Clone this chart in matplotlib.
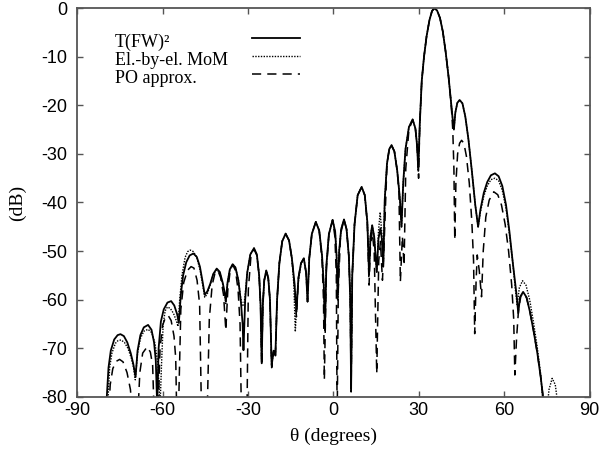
import matplotlib
matplotlib.use("Agg")
import matplotlib.pyplot as plt
import numpy as np
from matplotlib.lines import Line2D

# values: (theta in degrees, level in dB)
solid_pts = [
    (-79.8, -82), (-79.0, -74), (-78.2, -70.5), (-77.0, -68.2), (-75.8, -67.3), (-74.8, -67.1), (-73.6, -67.5),
    (-72.4, -68.8), (-71.2, -71), (-70.3, -73.2), (-69.5, -75.9),
    (-68.8, -70.5), (-67.8, -67.3), (-66.6, -65.7), (-65.1, -65.2), (-63.9, -66.2), (-63.0, -68.8), (-62.4, -72.5),
    (-61.9, -82),
    (-61.4, -70), (-60.6, -64.5), (-59.6, -62), (-58.3, -60.6), (-57.0, -60.3), (-55.9, -61.2), (-54.9, -63),
    (-54.3, -64.8),
    (-53.6, -59), (-52.8, -55), (-51.7, -52.3), (-50.5, -50.9), (-49.2, -50.5), (-48.0, -51.2), (-46.9, -53.2),
    (-45.9, -56.5), (-45.2, -59),
    (-44.3, -58.3), (-43.3, -56.8), (-42.2, -54.7), (-41.0, -53.6), (-39.9, -54.3), (-38.9, -56.5), (-38.2, -58.5),
    (-37.8, -60.4),
    (-37.2, -56.5), (-36.4, -53.8), (-35.4, -52.7), (-34.4, -53.4), (-33.4, -56), (-32.5, -60.5), (-31.9, -65),
    (-31.6, -70.4),
    (-31.0, -60), (-30.3, -54.5), (-29.2, -50.7), (-27.9, -49.4), (-26.9, -50.7), (-26.1, -55), (-25.6, -61),
    (-25.2, -73.1),
    (-24.8, -61), (-24.3, -56), (-23.6, -54), (-22.9, -55.5), (-22.3, -60), (-21.7, -73.5),
    (-21.0, -70.5), (-20.4, -71.5),
    (-19.8, -60), (-19.0, -52.5), (-18.0, -48), (-16.8, -46.4), (-15.6, -47.8), (-14.6, -51.5), (-13.7, -56.5),
    (-13.0, -62.5),
    (-12.3, -55.5), (-11.4, -52.5), (-10.4, -51.5), (-9.6, -54.5), (-9.1, -60.4),
    (-8.5, -51.5), (-7.6, -46.5), (-6.2, -44), (-5.0, -45.8), (-4.0, -51), (-3.4, -57), (-3.0, -66.3),
    (-2.5, -53), (-1.6, -46.5), (-0.3, -43.6), (0.6, -46), (1.1, -51), (1.5, -60),
    (2.0, -50), (2.7, -45.5), (3.7, -43.5), (4.6, -45.5), (5.4, -51), (5.9, -60), (6.2, -78.3),
    (6.6, -55), (7.4, -44.5), (8.5, -38.5), (9.9, -36.8), (11.0, -38.5), (11.9, -44), (12.5, -54.9),
    (13.0, -47), (13.6, -44.7), (14.3, -47), (15.2, -54.3), (15.8, -47.5), (16.5, -45.3), (17.0, -47.5),
    (17.5, -53.2),
    (18.0, -39.5), (18.8, -32), (19.6, -29), (20.4, -28.2), (21.4, -29.5), (22.4, -33.5), (23.3, -39), (23.9, -45),
    (24.5, -36), (25.3, -29), (26.5, -24.5), (27.8, -22.9), (28.8, -24.8), (29.4, -28.5), (29.8, -33.5),
    (30.3, -24), (31.0, -15), (31.8, -10), (32.7, -5.8), (33.7, -2.5), (34.6, -0.6), (35.4, 0), (36.4, -0.5),
    (37.4, -2), (38.4, -4.8), (39.4, -9), (40.4, -14), (41.3, -19.5), (41.9, -23), (42.3, -25),
    (42.8, -21.5), (43.5, -19.5), (44.3, -18.9), (45.3, -19.6), (46.3, -22.3), (47.4, -27), (48.6, -33.5),
    (49.8, -40.5), (50.8, -45),
    (51.6, -41.5), (52.8, -38), (54.0, -35.8), (55.3, -34.4), (56.7, -34), (58.0, -34.6), (59.3, -36.6),
    (60.6, -40.5), (61.8, -46), (63.0, -52.5), (64.3, -59), (64.9, -62.8),
    (65.5, -59.5), (66.6, -58.4), (67.8, -59.5), (69.0, -62.5), (70.3, -66.5), (71.6, -71), (72.8, -76),
    (73.6, -80), (74.0, -82),
]

dotted_pts = [
    (-79.3, -82), (-78.6, -74), (-77.8, -71), (-76.6, -69), (-75.6, -68.4), (-74.6, -68.3), (-73.4, -68.8),
    (-72.2, -70), (-71.0, -72), (-70.2, -74), (-69.6, -76.5),
    (-68.8, -71), (-67.8, -68), (-66.6, -66.5), (-65.1, -66.1), (-63.8, -66.8), (-62.7, -69), (-61.7, -73),
    (-60.9, -82),
    (-60.3, -72), (-59.8, -65), (-59.1, -62.3), (-58.3, -61.5), (-57.3, -61.8), (-56.2, -62.8), (-55.2, -64.3),
    (-54.6, -65.5),
    (-54.0, -60), (-53.2, -55), (-52.1, -51.3), (-51.2, -50.1), (-50.3, -49.8), (-49.2, -50.1), (-48.0, -51.3),
    (-46.8, -54), (-45.8, -57.5), (-45.2, -59.5),
    (-44.3, -58.8), (-43.3, -57), (-42.2, -54.8), (-41.0, -53.8), (-39.9, -54.5), (-38.9, -56.8), (-38.2, -58.8),
    (-37.8, -60.8),
    (-37.2, -56.5), (-36.4, -53.8), (-35.4, -52.7), (-34.4, -53.4), (-33.4, -56), (-32.6, -59.5), (-32.0, -61.2),
    (-31.5, -61.3),
    (-31.0, -59), (-30.3, -54.5), (-29.2, -50.7), (-27.9, -49.4), (-26.9, -50.7), (-26.1, -55), (-25.6, -61),
    (-25.2, -73.1),
    (-24.8, -61), (-24.3, -56), (-23.6, -54), (-22.9, -55.5), (-22.3, -60), (-21.7, -73.5),
    (-21.0, -70.5), (-20.4, -71.5),
    (-19.8, -60), (-19.0, -52.5), (-18.0, -48), (-16.8, -46.4), (-15.6, -47.8), (-14.6, -51.5), (-13.9, -57),
    (-13.4, -66.6),
    (-12.5, -57), (-11.4, -52.7), (-10.4, -51.5), (-9.6, -54.5), (-9.1, -60.4),
    (-8.5, -51.5), (-7.6, -46.5), (-6.2, -44), (-5.0, -45.8), (-4.0, -51), (-3.4, -57), (-3.0, -66.3),
    (-2.5, -53), (-1.6, -46.5), (-0.3, -43.6), (0.6, -46), (1.1, -51), (1.5, -60),
    (2.0, -50), (2.7, -45.5), (3.7, -43.5), (4.6, -45.5), (5.4, -51), (5.9, -60), (6.2, -78.3),
    (6.6, -55), (7.4, -44.5), (8.5, -38.5), (9.9, -36.8), (11.0, -38.5), (11.9, -44), (12.5, -54.9),
    (13.0, -47), (13.6, -44.7), (14.3, -47), (15.2, -54.3), (15.8, -46), (16.4, -42), (17.0, -46.5),
    (17.5, -53.2),
    (18.0, -39.5), (18.8, -32), (19.6, -29), (20.4, -28.2), (21.4, -29.5), (22.4, -33.5), (23.3, -39), (23.9, -45),
    (24.5, -36), (25.3, -29), (26.5, -24.5), (27.8, -22.9), (28.8, -24.8), (29.4, -28.5), (29.8, -33.5),
    (30.3, -24), (31.0, -15), (31.8, -10), (32.7, -5.8), (33.7, -2.5), (34.6, -0.6), (35.4, 0), (36.4, -0.5),
    (37.4, -2), (38.4, -4.8), (39.4, -9), (40.4, -14), (41.3, -19.5), (41.9, -23), (42.3, -25),
    (42.8, -21.5), (43.5, -19.5), (44.3, -18.9), (45.3, -19.6), (46.3, -22.3), (47.4, -27), (48.6, -33.5),
    (49.8, -40.5), (50.8, -45),
    (51.6, -42), (52.8, -38.7), (54.0, -36.6), (55.3, -35.3), (56.7, -35), (58.0, -35.5), (59.3, -37.5),
    (60.6, -41.2), (61.8, -46.5), (63.0, -52.5), (63.9, -58), (64.5, -61),
    (65.3, -57.5), (66.4, -56.1), (67.6, -57), (68.9, -60), (70.2, -64.5), (71.5, -69.5), (72.7, -75),
    (73.7, -82),
    (np.nan, np.nan),
    (75.1, -82), (75.7, -78.5), (76.8, -76.2), (77.9, -77.5), (78.9, -82),
]

dashed_pts = [
    (-79.1, -85), (-78.4, -77.5), (-77.5, -74.2), (-76.3, -72.7), (-75.1, -72.3), (-73.9, -72.8), (-72.5, -75),
    (-71.3, -78.5), (-70.4, -85),
    (-68.8, -85), (-68.0, -75), (-67.0, -71), (-65.4, -69.7), (-64.3, -70.8), (-63.5, -73.5), (-62.9, -85),
    (-61.7, -85), (-60.9, -70), (-60.0, -65.3), (-58.9, -63.5), (-58.0, -63.3), (-57.0, -64.3), (-56.0, -67.5),
    (-55.4, -72), (-55.0, -85),
    (-54.5, -85), (-53.6, -62), (-52.6, -56.5), (-51.3, -54), (-50.0, -53.2), (-49.0, -53.5), (-47.9, -56),
    (-47.0, -61), (-46.3, -85),
    (-44.4, -85), (-43.6, -64), (-42.6, -57), (-41.6, -54.5), (-40.6, -54), (-39.6, -55.5), (-38.6, -59),
    (-37.8, -66.3),
    (-37.1, -58), (-36.3, -54.2), (-35.4, -52.8), (-34.4, -54), (-33.5, -58), (-32.8, -65), (-32.3, -85),
    (-30.4, -85), (-29.9, -58), (-29.0, -51.2), (-27.9, -49.6), (-26.9, -50.9), (-26.1, -55), (-25.6, -61),
    (-25.2, -73.5),
    (-24.8, -61), (-24.3, -56), (-23.6, -54.2), (-22.9, -55.7), (-22.3, -60), (-21.7, -74),
    (-21.0, -70.5), (-20.4, -72),
    (-19.8, -60), (-19.0, -52.5), (-18.0, -48), (-16.8, -46.5), (-15.6, -47.8), (-14.6, -51.5), (-13.7, -57),
    (-13.0, -63.5),
    (-12.3, -55.5), (-11.4, -52.5), (-10.4, -51.5), (-9.6, -54.5), (-9.1, -60.4),
    (-8.5, -51.5), (-7.6, -46.5), (-6.2, -44), (-5.0, -45.8), (-4.0, -52), (-3.5, -60), (-3.2, -76.5),
    (-2.5, -54), (-1.6, -46.5), (-0.3, -43.6), (0.5, -47), (1.0, -55), (1.3, -85),
    (1.7, -58), (2.5, -46.5), (3.7, -43.5), (4.6, -45.5), (5.4, -51), (5.9, -60), (6.2, -79),
    (6.6, -55), (7.4, -44.5), (8.5, -38.5), (9.9, -36.8), (11.0, -38.5), (11.9, -44.5), (12.5, -57),
    (13.0, -49), (13.6, -46), (14.3, -50), (15.2, -75.2), (15.9, -52), (16.5, -48), (17.2, -56),
    (17.7, -50), (18.3, -40), (18.8, -32), (19.6, -29), (20.4, -28.3), (21.4, -29.5), (22.4, -33.5),
    (23.0, -38), (23.5, -56.3), (24.2, -47), (24.8, -53), (25.4, -33), (26.5, -25), (27.8, -23), (28.8, -25),
    (29.4, -29), (29.9, -35),
    (30.3, -24), (31.0, -15), (31.8, -10), (32.7, -5.8), (33.7, -2.5), (34.6, -0.6), (35.4, 0), (36.4, -0.5),
    (37.4, -2), (38.4, -4.8), (39.4, -9), (40.4, -14), (41.3, -19.5), (41.9, -25), (42.3, -33), (42.6, -47.7),
    (43.0, -36), (43.6, -30), (44.3, -27.8), (45.0, -27.2), (45.8, -27.8), (46.7, -30.5), (47.7, -36),
    (48.6, -44), (49.2, -52), (49.6, -67), (50.1, -56), (50.5, -50.8), (51.2, -54), (52.0, -59.4),
    (52.6, -50), (53.5, -43), (54.7, -39.5), (56.3, -37.8), (57.7, -38.4), (59.0, -40.5), (60.3, -44.5),
    (61.5, -50), (62.6, -57), (63.3, -64), (63.7, -75.5),
    (64.3, -68), (65.0, -62), (65.8, -59.3), (66.6, -58.6), (67.8, -59.6), (69.0, -62.5), (70.3, -66.5),
    (71.6, -71), (72.8, -76), (73.6, -80), (74.0, -82),
]

legend_labels = ["T(FW)\u00b2", "El.-by-el. MoM", "PO approx."]
x_ticks = [-90, -60, -30, 0, 30, 60, 90]
y_ticks = [0, -10, -20, -30, -40, -50, -60, -70, -80]

solid_theta, solid_db = np.array(solid_pts).T
dotted_theta, dotted_db = np.array(dotted_pts).T
dashed_theta, dashed_db = np.array(dashed_pts).T

fig = plt.figure(figsize=(6.03, 4.53), dpi=100)
ax = fig.add_axes([0.128, 0.124, 0.850, 0.858])

styles = [dict(lw=1.3, linestyle="-"), dict(lw=1.0, linestyle=(0, (1, 1))), dict(lw=1.1, linestyle=(0, (6, 4)))]
ax.plot(solid_theta, solid_db, color="black", **styles[0])
ax.plot(dotted_theta, dotted_db, color="black", **styles[1])
ax.plot(dashed_theta, dashed_db, color="black", **styles[2])

ax.set_xlim(-90, 90)
ax.set_ylim(-80, 0)
ax.set_xticks(x_ticks)
ax.set_yticks(y_ticks)
ax.set_xticklabels([str(t) for t in x_ticks], fontfamily="Liberation Sans", fontsize=13)
ax.set_yticklabels([str(t) for t in y_ticks], fontfamily="Liberation Sans", fontsize=13)
ax.tick_params(direction="in", length=4, width=1, color="#555555", top=True, right=True)
ax.tick_params(axis="x", pad=4)
ax.tick_params(axis="y", pad=7)
for sp in ax.spines.values():
    sp.set_color("#555555")
    sp.set_linewidth(1.3)

ax.set_xlabel("\u03b8 (degrees)", fontfamily="Liberation Serif", fontsize=14, labelpad=6)
ax.set_ylabel("(dB)", fontfamily="Liberation Serif", fontsize=14, labelpad=11)

# legend drawn by hand: labels left-aligned, line samples in a column to the right
rows_y = [0.912, 0.866, 0.818]
for lab, st, yy in zip(legend_labels, styles, rows_y):
    ax.text(0.074, yy, lab, transform=ax.transAxes, fontfamily="Liberation Serif", fontsize=13,
            ha="left", va="center")
    ax.add_line(Line2D([0.341, 0.435], [yy + 0.012, yy + 0.012], transform=ax.transAxes, color="black", **st))

fig.savefig("out.png", dpi=100)
